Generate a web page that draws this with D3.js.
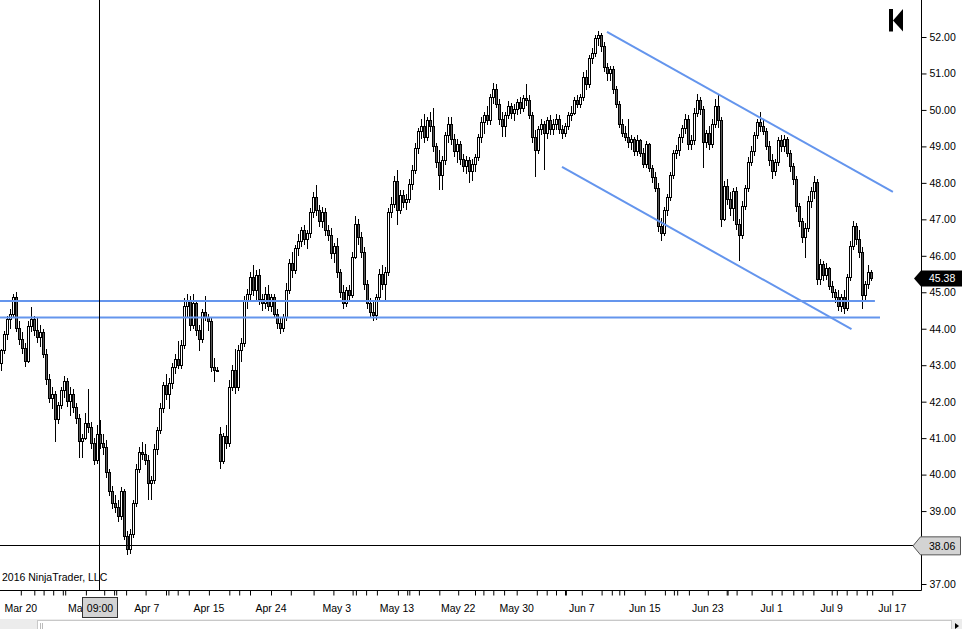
<!DOCTYPE html>
<html>
<head>
<meta charset="utf-8">
<script src="https://cdn.jsdelivr.net/npm/d3@7"></script>
<style>
  body { margin: 0; background: #fff; }
  text { font-family: "Liberation Sans", Arial, sans-serif; font-size: 10.5px; }
</style>
</head>
<body>
<div id="chart"></div>
<script>
// bars as [open, high, low, close], equidistant bar slots
const march = [
  [43.05,43.45,42.85,43.40],[43.40,43.95,43.30,43.85],[43.85,44.35,43.70,44.25],[44.25,44.55,44.00,44.40],
  [44.40,44.95,44.30,44.85],[44.85,45.00,43.90,44.00],[44.00,44.20,43.55,43.70],[43.70,43.90,43.30,43.45],
  [43.45,43.60,42.95,43.10],[43.10,44.20,43.05,44.05],[44.05,44.60,43.90,44.25],[44.25,44.35,43.80,43.95],
  [43.95,44.30,43.60,43.75],[43.75,44.10,43.50,43.90],[43.90,44.00,43.20,43.30],[43.30,43.45,42.45,42.60],
  [42.60,42.75,41.95,42.10],[42.10,42.40,41.80,42.20],[42.20,42.30,40.90,41.50],[41.50,42.00,41.40,41.90],
  [41.90,42.40,41.80,42.30],[42.30,42.70,42.10,42.55],[42.55,42.65,41.85,42.00],[42.00,42.40,41.60,42.20],
  [42.20,42.35,41.70,41.85],[41.85,41.95,41.40,41.55],[41.55,41.65,40.45,40.90],[40.90,41.10,40.45,41.00],
  [41.00,41.70,40.95,41.40],[41.40,42.35,41.15,41.30],[41.30,41.45,40.70,40.85],[40.85,41.00,40.25,40.40],
  [40.40,41.35,40.30,41.10],[41.10,41.50,40.70,40.85],[40.85,41.10,40.55,40.75],[40.75,40.95,39.90,40.05]
];
const april = [
  [40.05,40.15,39.40,39.55],[39.55,39.70,39.05,39.20],[39.20,39.45,38.95,39.10],[39.10,39.30,38.70,38.85],
  [38.85,39.65,38.75,39.55],[39.55,39.60,38.20,38.30],[38.30,38.45,37.80,37.95],[37.95,38.50,37.82,38.35],
  [38.35,39.30,38.25,39.20],[39.20,40.30,39.10,40.15],[40.15,40.75,40.05,40.60],[40.60,40.90,40.40,40.55],
  [40.55,40.85,40.25,40.40],[40.40,40.55,39.30,39.75],[39.75,39.95,39.30,39.85],[39.85,40.85,39.75,40.70],
  [40.70,41.30,40.55,41.20],[41.20,41.95,41.10,41.80],[41.80,42.55,41.70,42.45],[42.45,42.75,42.05,42.20],
  [42.20,42.65,41.80,42.50],[42.50,43.05,42.35,42.95],[42.95,43.30,42.75,43.15],[43.15,43.65,42.90,43.00],
  [43.00,43.70,42.90,43.55],[43.55,44.85,43.45,44.60],[44.60,44.95,44.30,44.75],[44.75,44.90,43.95,44.10],
  [44.10,44.95,44.00,44.70],[44.70,44.80,43.80,43.95],[43.95,44.10,43.40,43.70],[43.70,44.55,43.60,44.45],
  [44.45,44.90,44.20,44.30],[44.30,44.40,43.95,44.20],[44.20,44.30,42.80,42.95],[42.95,43.20,42.55,42.85],
  [42.85,42.95,42.80,42.85],[41.10,41.30,40.15,40.35],[40.35,41.15,40.30,41.05],[41.05,41.35,40.70,40.85],
  [40.85,42.60,40.75,42.40],[42.40,43.00,42.30,42.85],[42.85,43.45,42.20,42.40],[42.40,43.55,42.30,43.40],
  [43.40,43.75,43.10,43.60],[43.60,44.90,43.50,44.75],[44.75,45.10,44.55,44.95],[44.95,45.55,44.80,45.40],
  [45.40,45.75,44.90,45.05],[45.05,45.60,44.80,45.45],[45.45,45.65,44.65,44.80],[44.80,44.95,44.50,44.70],
  [44.70,45.15,44.55,44.95],[44.95,45.20,44.50,44.60],[44.60,44.95,44.45,44.85],[44.85,44.95,44.30,44.40],
  [44.40,44.55,44.00,44.15],[44.15,44.30,43.85,44.00],[44.00,44.40,43.90,44.30],[44.30,45.25,44.20,45.05],
  [45.05,45.90,44.95,45.80],[45.80,46.10,45.40,45.60],[45.60,46.30,45.50,46.20],[46.20,46.60,46.00,46.40],
  [46.40,46.80,46.25,46.70],[46.70,46.85,46.30,46.45],[46.45,46.70,46.20,46.60],[46.60,47.30,46.50,47.20],
  [47.20,47.75,47.05,47.60],[47.60,47.95,47.10,47.25],[47.25,47.40,46.80,46.95]
];
const may = [
  [46.95,47.35,46.75,47.20],[47.20,47.30,46.55,46.70],[46.70,46.85,46.40,46.55],[46.55,46.75,45.90,46.05],
  [46.05,46.35,45.80,46.25],[46.25,46.50,45.40,45.55],[45.55,45.65,44.85,45.00],[45.00,45.20,44.55,44.70],
  [44.70,45.15,44.60,45.05],[45.05,45.20,44.75,44.90],[44.90,46.10,44.85,45.95],[45.95,47.10,45.90,46.85],
  [46.85,47.00,46.30,46.50],[46.50,46.65,45.95,46.10],[46.10,46.25,45.05,45.20],[45.20,45.35,44.55,44.70],
  [44.70,44.85,44.30,44.45],[44.45,44.75,44.20,44.35],[44.35,44.95,44.25,44.85],[44.85,45.65,44.75,45.50],
  [45.50,45.75,45.05,45.20],[45.20,45.70,44.80,45.55],[45.55,47.30,45.45,47.20],[47.20,47.60,47.05,47.40],
  [47.40,48.20,47.30,48.05],[48.05,48.35,46.85,47.25],[47.25,47.80,47.15,47.65],[47.65,47.80,47.30,47.45],
  [47.45,47.70,47.25,47.55],[47.55,48.10,47.45,47.95],[47.95,48.50,47.80,48.35],[48.35,49.10,48.25,48.95],
  [48.95,49.50,48.80,49.40],[49.40,49.75,49.20,49.55],[49.55,49.90,49.10,49.25],[49.25,49.80,49.15,49.70],
  [49.70,49.95,49.40,49.55],[49.55,50.05,48.85,49.00],[49.00,49.10,48.40,48.55],[48.55,48.90,47.80,48.20],
  [48.20,48.75,47.80,48.60],[48.60,49.40,48.50,49.30],[49.30,49.80,49.10,49.60],[49.60,49.80,49.05,49.20],
  [49.20,49.35,48.70,48.85],[48.85,49.20,48.55,49.05],[49.05,49.15,48.50,48.65],[48.65,48.80,48.30,48.45],
  [48.45,48.75,48.25,48.60],[48.60,48.70,48.00,48.30],[48.30,48.65,48.05,48.50],[48.50,48.80,48.30,48.70],
  [48.70,49.35,48.60,49.25],[49.25,49.80,49.10,49.65],[49.65,49.95,49.35,49.85],[49.85,50.10,49.60,49.70],
  [49.70,50.45,49.60,50.35],[50.35,50.75,50.15,50.55],[50.55,50.70,50.05,50.15],[50.15,50.30,49.60,49.75],
  [49.75,49.95,49.25,49.55],[49.55,49.95,49.25,49.85],[49.85,50.25,49.75,50.10],[50.10,50.20,49.75,49.90],
  [49.90,50.15,49.70,50.00],[50.00,50.30,49.85,50.20],[50.20,50.35,49.90,50.05],[50.05,50.40,49.95,50.30],
  [50.30,50.70,50.10,50.25],[50.25,50.40,49.75,49.85],[49.85,49.95,49.10,49.25]
];
const june = [
  [49.25,49.45,48.15,48.90],[48.90,49.55,48.80,49.45],[49.45,49.75,49.30,49.60],[49.60,49.70,48.35,49.35],
  [49.35,49.80,49.20,49.70],[49.70,49.85,49.30,49.45],[49.45,49.75,49.30,49.60],[49.60,49.90,49.45,49.75],
  [49.75,49.85,49.35,49.45],[49.45,49.60,49.20,49.35],[49.35,49.65,49.25,49.55],[49.55,49.95,49.45,49.85],
  [49.85,50.10,49.70,49.90],[49.90,50.35,49.85,50.25],[50.25,50.40,50.05,50.15],[50.15,50.45,50.05,50.35],
  [50.35,51.05,50.25,50.90],[50.90,51.10,50.55,50.70],[50.70,51.50,50.60,51.40],[51.40,51.70,51.25,51.55],
  [51.55,52.05,51.45,51.95],[51.95,52.17,51.75,52.05],[52.05,52.10,51.60,51.75],[51.75,51.85,51.05,51.15],
  [51.15,51.30,50.80,51.00],[51.00,51.20,50.80,51.10],[51.10,51.20,50.45,50.55],[50.55,50.65,50.05,50.15],
  [50.15,50.25,49.50,49.60],[49.60,49.75,49.25,49.35],[49.35,49.55,49.15,49.25],[49.25,49.75,48.95,49.10],
  [49.10,49.30,48.90,49.20],[49.20,49.25,48.75,48.85],[48.85,49.30,48.75,49.15],[49.15,49.20,48.70,48.80],
  [48.80,48.95,48.40,48.50],[48.50,49.15,48.40,49.05],[49.05,49.10,48.30,48.40],[48.40,48.50,48.00,48.15],
  [48.15,48.30,47.75,47.85],[47.85,48.00,46.65,46.80],[46.80,47.05,46.40,46.60],[46.60,47.35,46.55,47.25],
  [47.25,47.70,47.10,47.60],[47.60,48.30,47.50,48.20],[48.20,48.90,48.10,48.80],[48.80,49.05,48.65,48.90],
  [48.90,49.35,48.75,49.25],[49.25,49.60,49.10,49.50],[49.50,49.90,49.35,49.75],[49.75,49.85,48.90,49.05],
  [49.05,49.30,48.90,49.15],[49.15,50.05,49.05,49.90],[49.90,50.45,49.80,50.25],[50.25,50.35,49.85,50.00],
  [50.00,50.10,48.40,49.10],[49.10,49.45,48.95,49.35],[49.35,49.55,48.90,49.05],[49.05,49.75,48.95,49.60],
  [49.60,50.30,49.50,50.10],[50.10,50.40,49.50,49.70],[49.70,49.80,46.80,47.00],[47.00,48.05,46.95,47.90],
  [47.90,48.10,47.40,47.55],[47.55,47.75,47.10,47.30],[47.30,47.85,46.95,47.75],[47.75,47.90,46.70,46.85],
  [46.85,47.00,45.85,46.55],[46.55,47.50,46.45,47.35],[47.35,47.95,47.25,47.85],[47.85,48.70,47.75,48.55],
  [48.55,49.00,48.45,48.85],[48.85,49.40,48.75,49.30],[49.30,49.75,49.20,49.65],[49.65,49.95,49.40,49.55],
  [49.55,49.75,49.30,49.40],[49.40,49.50,48.90,49.00],[49.00,49.15,48.45,48.60]
];
const july = [
  [48.60,48.80,48.10,48.30],[48.30,48.65,48.20,48.55],[48.55,49.25,48.45,49.15],[49.15,49.30,48.85,49.00],
  [49.00,49.30,48.85,49.20],[49.20,49.25,48.70,48.80],[48.80,48.90,48.30,48.45],[48.45,48.55,47.95,48.10],
  [48.10,48.20,47.20,47.35],[47.35,47.45,46.80,46.95],[46.95,47.05,46.35,46.50],[46.50,46.90,45.95,46.75],
  [46.75,47.65,46.65,47.50],[47.50,47.90,47.30,47.75],[47.75,48.20,47.55,48.00],[48.00,48.10,45.20,45.35],
  [45.35,45.90,45.20,45.75],[45.75,45.85,45.30,45.45],[45.45,45.80,45.35,45.65],[45.65,45.70,45.05,45.15],
  [45.15,45.30,44.85,45.00],[45.00,45.10,44.70,44.85],[44.85,45.05,44.50,44.60],[44.60,44.95,44.45,44.85],
  [44.85,45.05,44.40,44.55],[44.55,45.50,44.50,45.40],[45.40,46.40,45.30,46.25],[46.25,46.95,46.15,46.80],
  [46.80,46.90,46.30,46.45],[46.45,46.70,45.95,46.10],[46.10,46.25,44.55,44.90],[44.90,45.30,44.80,45.20],
  [45.20,45.75,45.10,45.55],[45.55,45.60,45.30,45.38]
];

const priceTicks = [37, 38, 39, 40, 41, 42, 43, 44, 45, 46, 47, 48, 49, 50, 51, 52];
const dateLabels = ["Mar 20", "Mar 29", "Apr 7", "Apr 15", "Apr 24", "May 3", "May 13", "May 22",
                    "May 30", "Jun 7", "Jun 15", "Jun 23", "Jul 1", "Jul 9", "Jul 17"];
const dateLabelBars = [6.6, 27.8, 48.6, 69.3, 90.0, 111.9, 132.0, 152.4, 171.9, 193.6, 214.6, 235.6, 256.9, 276.9, 297.1];
const sessionTickBars = [6.6, 11.1, 14.2, 17.4, 20.6, 21.4, 28.3, 34.4, 37.7, 38.4, 41.7, 48.2, 55, 55.8, 58.9,
  62.6, 69.3, 76.1, 79.4, 83, 90, 96.6, 104.2, 110.8, 117.2, 118.3, 121.7, 125.3, 132.3, 135.4, 136.1,
  139.3, 146.1, 152.4, 158, 160.8, 164.1, 167.7, 171.9, 178.6, 181.9, 185, 188, 188.3, 193.6, 200.2,
  203.6, 206.1, 207.7, 214.6, 221.3, 224.3, 225.4, 229.3, 235.6, 241.9, 242.2, 245.2, 250.2, 256.9,
  260.2, 264.1, 267.2, 270.8, 276.9, 278.6, 281.9, 285.2, 288.6, 290.4, 297.1];

// drawn objects: [bar, price] end points
const channelTop = [[202, 52.14], [297.3, 47.75]];
const channelBottom = [[187, 48.44], [283.5, 43.99]];
const supportHigh = [[-0.5, 44.76], [291.3, 44.76]];
const supportLow = [[-0.5, 44.31], [293, 44.31]];

const crosshairBar = 32.8, crosshairPrice = 38.06, crosshairTime = "09:00";
const lastPrice = 45.38;

const bars = [].concat(march, april, may, june, july);

const W = 962, H = 629, axisX = 921.5, axisY = 590.5;

const svg = d3.select("#chart").append("svg")
    .attr("width", W).attr("height", H)
    .style("display", "block");

svg.append("rect").attr("width", W).attr("height", H).attr("fill", "#fff");

const x = d3.scaleLinear().domain([0, 306]).range([1, 919]);
const y = d3.scaleLinear().domain([37, 52]).range([584, 37]);

svg.append("clipPath").attr("id", "plot")
  .append("rect").attr("x", 0).attr("y", 0).attr("width", axisX).attr("height", axisY);

const plot = svg.append("g").attr("clip-path", "url(#plot)");

// candles
const candle = plot.append("g").attr("shape-rendering", "crispEdges")
  .selectAll("g").data(bars).join("g");

candle.append("line")
    .attr("x1", (d, i) => Math.round(x(i)) + 0.5)
    .attr("x2", (d, i) => Math.round(x(i)) + 0.5)
    .attr("y1", d => y(d[1]))
    .attr("y2", d => y(d[2]))
    .attr("stroke", "#000");

candle.append("rect")
    .attr("x", (d, i) => Math.round(x(i)) - 0.5)
    .attr("width", 2)
    .attr("y", d => y(Math.max(d[0], d[3])))
    .attr("height", d => Math.max(0.5, Math.abs(y(d[0]) - y(d[3]))))
    .attr("fill", d => d[3] >= d[0] ? "#fff" : "#5a5a5a")
    .attr("stroke", "#000")
    .attr("stroke-width", 1);

// drawn trend / support lines
const seg = d3.line().x(d => x(d[0])).y(d => y(d[1]));
[channelTop, channelBottom, supportHigh, supportLow].forEach(function(pts) {
  plot.append("path")
      .attr("d", seg(pts))
      .attr("fill", "none")
      .attr("stroke", "#6495ed")
      .attr("stroke-width", 2);
});

// crosshair
svg.append("line")
    .attr("x1", Math.round(x(crosshairBar)) + 0.5).attr("x2", Math.round(x(crosshairBar)) + 0.5)
    .attr("y1", 0).attr("y2", axisY)
    .attr("stroke", "#000");
svg.append("line")
    .attr("x1", 0).attr("x2", 913)
    .attr("y1", Math.round(y(crosshairPrice)) + 0.5).attr("y2", Math.round(y(crosshairPrice)) + 0.5)
    .attr("stroke", "#000");

// copyright
svg.append("text").attr("x", 2).attr("y", 581).attr("fill", "#000").text("2016 NinjaTrader, LLC");

// right price axis
const yAxis = svg.append("g")
    .attr("transform", `translate(${axisX},0)`)
    .call(d3.axisRight(y).tickValues(priceTicks).tickSize(5).tickPadding(3).tickFormat(d3.format(".2f")));
yAxis.select(".domain").remove();
yAxis.selectAll("text").attr("fill", "#000").style("font-size", "10.5px")
    .style("font-family", "'Liberation Sans', Arial, sans-serif");
yAxis.selectAll("line").attr("stroke", "#000");
svg.append("line").attr("x1", axisX).attr("x2", axisX).attr("y1", 0).attr("y2", axisY).attr("stroke", "#000");

// bottom time axis
const xAxis = svg.append("g")
    .attr("transform", `translate(0,${axisY})`)
    .call(d3.axisBottom(x).tickValues(sessionTickBars).tickSize(5).tickFormat(""));
xAxis.select(".domain").remove();
xAxis.selectAll("line").attr("stroke", "#000");
svg.append("line").attr("x1", 0).attr("x2", axisX).attr("y1", axisY).attr("y2", axisY).attr("stroke", "#000");

svg.append("g").selectAll("text").data(dateLabels).join("text")
    .attr("x", (d, i) => x(dateLabelBars[i]))
    .attr("y", 612)
    .attr("text-anchor", "middle")
    .attr("fill", "#000")
    .text(d => d);

// crosshair time marker
const cx = Math.round(x(crosshairBar)) + 0.5;
svg.append("rect").attr("x", cx - 17).attr("y", 597.5).attr("width", 35).attr("height", 20)
    .attr("fill", "#d3d3d3").attr("stroke", "#333");
svg.append("text").attr("x", cx + 0.5).attr("y", 611.5).attr("text-anchor", "middle")
    .attr("fill", "#000").text(crosshairTime);

// crosshair price marker
const cy = y(crosshairPrice) + 0.5;
svg.append("path")
    .attr("d", `M913,${cy} L920.5,${cy - 9} L960.5,${cy - 9} L960.5,${cy + 9} L920.5,${cy + 9} Z`)
    .attr("fill", "#d3d3d3").attr("stroke", "#555");
svg.append("text").attr("x", 929).attr("y", cy + 4).attr("fill", "#000").text(d3.format(".2f")(crosshairPrice));

// last price marker
const ly = y(lastPrice);
svg.append("path")
    .attr("d", `M914,${ly} L921,${ly - 8} L962,${ly - 8} L962,${ly + 8} L921,${ly + 8} Z`)
    .attr("fill", "#000");
svg.append("text").attr("x", 929).attr("y", ly + 4).attr("fill", "#fff").text(d3.format(".2f")(lastPrice));

// scroll-to-end button
svg.append("rect").attr("x", 889).attr("y", 9).attr("width", 4).attr("height", 22.5).attr("fill", "#000");
svg.append("path").attr("d", "M893,20.5 L903,9 L903,31.5 Z").attr("fill", "#000");

// scroll bar strip
svg.append("rect").attr("x", 0).attr("y", 619).attr("width", W).attr("height", 10).attr("fill", "#ececec");
svg.append("rect").attr("x", 37.5).attr("y", 620.5).attr("width", 914).attr("height", 10)
    .attr("fill", "#fff").attr("stroke", "#c8c8c8");
svg.append("line").attr("x1", 40.5).attr("x2", 40.5).attr("y1", 623).attr("y2", 629).attr("stroke", "#bbb");
svg.append("line").attr("x1", 42.5).attr("x2", 42.5).attr("y1", 623).attr("y2", 629).attr("stroke", "#bbb");
svg.append("path").attr("d", "M955,623 L959,626 L955,629 Z").attr("fill", "#000");
</script>
</body>
</html>
